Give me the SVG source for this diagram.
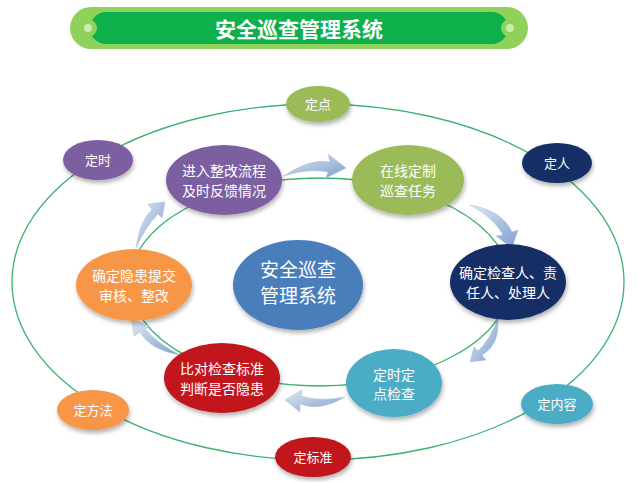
<svg xmlns="http://www.w3.org/2000/svg" width="638" height="482" viewBox="0 0 638 482">
<defs>
<linearGradient id="ag" x1="0" y1="0" x2="1" y2="1"><stop offset="0" stop-color="#dfe8f4"/><stop offset="1" stop-color="#7f9fcc"/></linearGradient>
<filter id="sh" x="-20%" y="-20%" width="140%" height="150%"><feDropShadow dx="1" dy="3" stdDeviation="2" flood-color="#000" flood-opacity="0.3"/></filter>
</defs>
<style>
text{font-family:"Noto Sans CJK SC","Liberation Sans",sans-serif;fill:#fff;text-anchor:middle}
.t{font-size:14px}
.s{font-size:13px}
.ring{fill:none;stroke:#3cb371;stroke-width:1.3}
.arr{fill:url(#ag);stroke:#a9bfdc;stroke-width:0.5}
</style>
<rect width="638" height="482" fill="#fff"/>
<g id="title">
<rect x="70" y="7" width="458" height="42" rx="21" fill="#8fd15a"/>
<rect x="90" y="12" width="418" height="32" rx="16" fill="#0db04b"/>
<rect x="72" y="12" width="454" height="32" rx="16" fill="none"/>
<circle cx="88" cy="28" r="9" fill="#8fd15a"/><circle cx="88" cy="28" r="4" fill="#c9ecb0"/>
<circle cx="510" cy="28" r="9" fill="#8fd15a"/><circle cx="510" cy="28" r="4" fill="#c9ecb0"/>
<text x="299" y="37" style="font-size:21px;font-weight:bold">安全巡查管理系统</text>
</g>
<g id="connectors">
<ellipse class="ring" cx="318" cy="282" rx="306" ry="178"/>
<ellipse class="ring" cx="320" cy="282" rx="190" ry="104"/>
<path class="arr" d="M284,176 Q310,158 330,162 L328,154 L346,168 L326,178 L328,172 Q308,168 284,176Z"/>
<path class="arr" d="M470,205 Q502,210 512,232 L518,230 L512,248 L496,236 L503,235 Q494,218 470,205Z"/>
<path class="arr" d="M498,318 Q500,345 482,355 L486,360 L470,362 L474,347 L478,351 Q490,340 498,318Z"/>
<path class="arr" d="M345,397 Q320,412 300,404 L300,412 L285,400 L302,390 L301,396 Q320,402 345,397Z"/>
<path class="arr" d="M180,355 Q150,350 140,332 L134,336 L132,320 L150,326 L145,329 Q158,344 180,355Z"/>
<path class="arr" d="M136,248 Q140,220 152,210 L148,204 L165,202 L162,218 L158,214 Q146,226 136,248Z"/>
</g>
<g id="center" filter="url(#sh)"><ellipse cx="298" cy="285" rx="65" ry="45" fill="#4a7ebb"/></g>
<text x="298" y="277" style="font-size:19px">安全巡查</text><text x="298" y="303" style="font-size:19px">管理系统</text>
<g id="n1" filter="url(#sh)"><ellipse cx="224" cy="180" rx="58" ry="35" fill="#7b5ea0"/></g>
<text class="t" x="224" y="176">进入整改流程</text><text class="t" x="224" y="196">及时反馈情况</text>
<g id="n2" filter="url(#sh)"><ellipse cx="408" cy="180" rx="56" ry="35" fill="#9bbb59"/></g>
<text class="t" x="408" y="176">在线定制</text><text class="t" x="408" y="196">巡查任务</text>
<g id="n3" filter="url(#sh)"><ellipse cx="508" cy="282" rx="58" ry="38" fill="#152f66"/></g>
<text class="t" x="508" y="278">确定检查人、责</text><text class="t" x="508" y="298">任人、处理人</text>
<g id="n4" filter="url(#sh)"><ellipse cx="394" cy="383" rx="48" ry="34" fill="#4bacc6"/></g>
<text class="t" x="394" y="380">定时定</text><text class="t" x="394" y="399">点检查</text>
<g id="n5" filter="url(#sh)"><ellipse cx="222" cy="378" rx="58" ry="35" fill="#c0141c"/></g>
<text class="t" x="222" y="374">比对检查标准</text><text class="t" x="222" y="394">判断是否隐患</text>
<g id="n6" filter="url(#sh)"><ellipse cx="134" cy="285" rx="58" ry="36" fill="#f79646"/></g>
<text class="t" x="134" y="281">确定隐患提交</text><text class="t" x="134" y="301">审核、整改</text>
<g id="o1" filter="url(#sh)"><ellipse cx="318" cy="104" rx="32" ry="18" fill="#9bbb59"/></g><text class="s" x="318" y="109">定点</text>
<g id="o2" filter="url(#sh)"><ellipse cx="557" cy="163" rx="35" ry="20" fill="#152f66"/></g><text class="s" x="557" y="168">定人</text>
<g id="o3" filter="url(#sh)"><ellipse cx="98" cy="160" rx="35" ry="20" fill="#7b5ea0"/></g><text class="s" x="98" y="165">定时</text>
<g id="o4" filter="url(#sh)"><ellipse cx="557" cy="404" rx="36" ry="20" fill="#4bacc6"/></g><text class="s" x="557" y="409">定内容</text>
<g id="o5" filter="url(#sh)"><ellipse cx="93" cy="410" rx="36" ry="20" fill="#f79646"/></g><text class="s" x="93" y="415">定方法</text>
<g id="o6" filter="url(#sh)"><ellipse cx="313" cy="457" rx="38" ry="20" fill="#c0141c"/></g><text class="s" x="313" y="462">定标准</text>
</svg>
